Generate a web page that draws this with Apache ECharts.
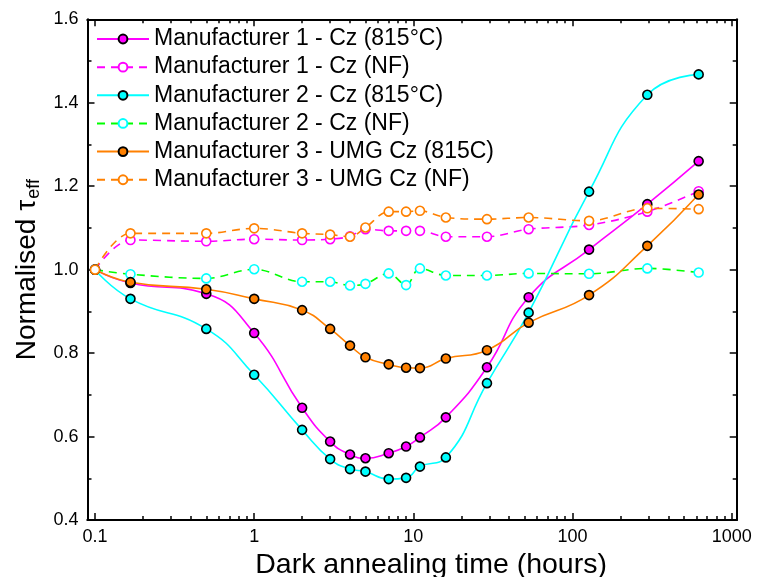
<!DOCTYPE html>
<html>
<head>
<meta charset="utf-8">
<script src="https://cdn.jsdelivr.net/npm/echarts@6/dist/echarts.min.js"></script>
<style>
  html, body { margin: 0; padding: 0; background: #fff; }
  #chart { width: 760px; height: 577px; }
</style>
</head>
<body>
<div id="chart"></div>
<script>
// Dark annealing time (hours) at which each lifetime was measured
const hours = [0.1, 0.167, 0.5, 1, 2, 3, 4, 5, 7, 9, 11, 16, 29, 53, 127, 295, 620];

// Normalised effective lifetime for each sample group
const m1Cz815 = [1.0, 0.968, 0.942, 0.848, 0.669, 0.588, 0.557, 0.548, 0.560, 0.576, 0.598, 0.646, 0.766, 0.934, 1.048, 1.157, 1.260];
const m1CzNF  = [1.0, 1.071, 1.068, 1.073, 1.071, 1.073, 1.080, 1.097, 1.093, 1.093, 1.093, 1.079, 1.079, 1.097, 1.107, 1.139, 1.188];
const m2Cz815 = [1.0, 0.930, 0.858, 0.748, 0.616, 0.546, 0.522, 0.516, 0.498, 0.501, 0.528, 0.550, 0.728, 0.897, 1.187, 1.419, 1.468];
const m2CzNF  = [1.0, 0.989, 0.979, 1.001, 0.971, 0.971, 0.962, 0.966, 0.991, 0.963, 1.003, 0.986, 0.986, 0.991, 0.990, 1.003, 0.993];
const m3Umg815 = [1.0, 0.970, 0.953, 0.930, 0.903, 0.858, 0.818, 0.790, 0.773, 0.765, 0.764, 0.787, 0.807, 0.873, 0.939, 1.057, 1.180];
const m3UmgNF  = [1.0, 1.087, 1.087, 1.099, 1.087, 1.084, 1.079, 1.101, 1.139, 1.139, 1.141, 1.125, 1.121, 1.125, 1.117, 1.147, 1.145];

const seriesNames = [
  'Manufacturer 1 - Cz (815°C)',
  'Manufacturer 1 - Cz (NF)',
  'Manufacturer 2 - Cz (815°C)',
  'Manufacturer 2 - Cz (NF)',
  'Manufacturer 3 - UMG Cz (815C)',
  'Manufacturer 3 - UMG Cz (NF)'
];

// Tick positions on the logarithmic time axis
const majorTicks = [0.1, 1, 10, 100, 1000];
const minorTicks = [0.2, 0.3, 0.4, 0.5, 0.6, 0.7, 0.8, 0.9,
                    2, 3, 4, 5, 6, 7, 8, 9,
                    20, 30, 40, 50, 60, 70, 80, 90,
                    200, 300, 400, 500, 600, 700, 800, 900];

// The frame leaves a small margin beyond the first and last decade
const X_MIN = 0.0897, X_MAX = 1075;

const FONT = "'Liberation Sans', Arial, Helvetica, sans-serif";
const MAGENTA = '#ff00ff', CYAN = '#00ffff', GREEN = '#00ff00', ORANGE = '#ff8000';

const pairs = vals => hours.map((h, i) => [h, vals[i]]);

function solidSeries(name, vals, color) {
  return {
    name, type: 'line', xAxisIndex: 0, yAxisIndex: 0,
    data: pairs(vals), smooth: 0.5,
    symbol: 'circle', symbolSize: 9,
    lineStyle: { color, width: 1.6 },
    itemStyle: { color, borderColor: '#000', borderWidth: 1.6 },
    emphasis: { disabled: true }
  };
}
function openSeries(name, vals, lineColor, markColor) {
  return {
    name, type: 'line', xAxisIndex: 0, yAxisIndex: 0,
    data: pairs(vals), smooth: 0.35,
    symbol: 'circle', symbolSize: 9,
    lineStyle: { color: lineColor, width: 1.6, type: [8, 6] },
    itemStyle: { color: '#fff', borderColor: markColor, borderWidth: 1.6 },
    emphasis: { disabled: true }
  };
}

function logAxis(position, ticks, len, labels) {
  return {
    type: 'log', logBase: 10, position,
    min: X_MIN, max: X_MAX,
    axisLine: { show: true, onZero: false, lineStyle: { color: '#000', width: 2 } },
    axisTick: { show: true, inside: true, length: len, customValues: ticks,
                lineStyle: { color: '#000', width: 1.5 } },
    axisLabel: labels ? { show: true, customValues: majorTicks, fontSize: 18, color: '#000',
                          fontFamily: FONT, margin: 8,
                          formatter: v => (v >= 1 ? String(Math.round(v)) : String(v)) }
                      : { show: false },
    splitLine: { show: false }
  };
}

function valueAxis(position, withLabels) {
  return {
    type: 'value', position,
    min: 0.4, max: 1.6, interval: 0.2,
    axisLine: { show: true, onZero: false, lineStyle: { color: '#000', width: 2 } },
    axisTick: { show: true, inside: true, length: 7, lineStyle: { color: '#000', width: 1.5 } },
    minorTick: { show: true, splitNumber: 2, length: 4, lineStyle: { color: '#000', width: 1.5 } },
    splitLine: { show: false },
    axisLabel: withLabels ? { show: true, fontSize: 18, color: '#000', fontFamily: FONT, margin: 9,
                              formatter: v => v.toFixed(1) } : { show: false }
  };
}

const yMain = valueAxis('left', true);
yMain.name = 'Normalised {t|τ}{s|eff}';
yMain.nameLocation = 'middle';
yMain.nameGap = 44;
yMain.nameRotate = 90;
yMain.nameTextStyle = {
  fontSize: 28, color: '#000', fontFamily: FONT, lineHeight: 30,
  rich: {
    t: { fontSize: 28, color: '#000', fontFamily: FONT, lineHeight: 30 },
    s: { fontSize: 18, color: '#000', fontFamily: FONT, lineHeight: 30, verticalAlign: 'bottom', padding: [0, 0, 0, 1] }
  }
};

const xMain = logAxis('bottom', majorTicks, 7, true);
xMain.name = 'Dark annealing time (hours)';
xMain.nameLocation = 'middle';
xMain.nameGap = 29;
xMain.nameTextStyle = { fontSize: 28.5, color: '#000', fontFamily: FONT, padding: [0, 0, 0, 38] };

const chart = echarts.init(document.getElementById('chart'), null, { renderer: 'canvas' });
chart.setOption({
  animation: false,
  backgroundColor: '#fff',
  grid: { left: 87.5, top: 19.3, width: 649.2, height: 500.7,
          containLabel: false, outerBoundsMode: 'none' },
  xAxis: [
    xMain,
    logAxis('bottom', minorTicks, 4, false),
    logAxis('top', majorTicks, 7, false),
    logAxis('top', minorTicks, 4, false)
  ],
  yAxis: [
    yMain,
    valueAxis('right', false)
  ],
  legend: {
    orient: 'vertical', left: 96, top: 27.5, padding: 0,
    itemWidth: 52, itemHeight: 11, itemGap: 5.15,
    selectedMode: false,
    textStyle: { fontSize: 23, color: '#000', fontFamily: FONT, lineHeight: 22 },
    data: seriesNames
  },
  series: [
    solidSeries(seriesNames[0], m1Cz815, MAGENTA),
    openSeries(seriesNames[1], m1CzNF, MAGENTA, MAGENTA),
    solidSeries(seriesNames[2], m2Cz815, CYAN),
    openSeries(seriesNames[3], m2CzNF, GREEN, CYAN),
    solidSeries(seriesNames[4], m3Umg815, ORANGE),
    openSeries(seriesNames[5], m3UmgNF, ORANGE, ORANGE)
  ]
});
</script>
</body>
</html>
